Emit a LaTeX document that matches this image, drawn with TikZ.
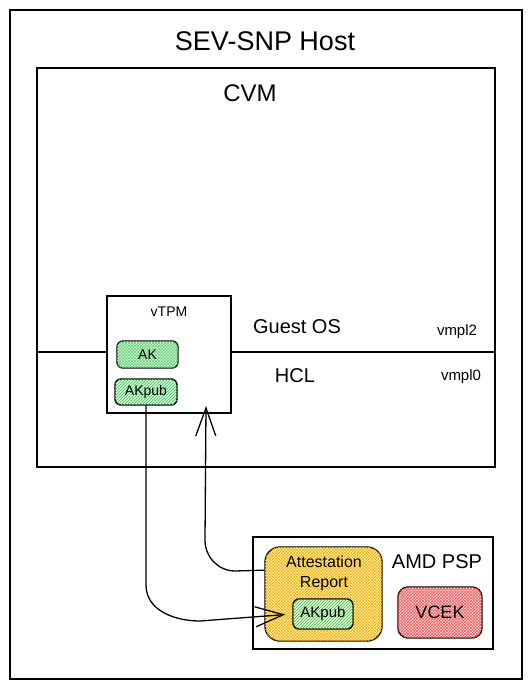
\documentclass[tikz,border=0pt]{standalone}
\usepackage{fontspec}
\setmainfont{Liberation Sans}
\usetikzlibrary{arrows.meta,patterns,calc}
\definecolor{grn}{HTML}{40C057}
\definecolor{grnbg}{HTML}{D3F9D8}
\definecolor{org}{HTML}{FAB005}
\definecolor{orgbg}{HTML}{FFF3BF}
\definecolor{rd}{HTML}{FA5252}
\definecolor{rdbg}{HTML}{FFE3E3}
\tikzset{
  box/.style={draw, line width=1.4pt, rectangle, inner sep=0pt, anchor=center},
  keybox/.style={box, rounded corners=6pt, font=\fontsize{14}{16}\selectfont},
  lbl/.style={inner sep=0pt, anchor=center},
  conn/.style={draw, line width=1.3pt, -{Straight Barb[length=28pt, width=20pt, line width=1.3pt]}},
}
\begin{document}
\begin{tikzpicture}[x=1pt,y=-1pt]
\useasboundingbox (0,0) rectangle (532,685);
\fill[white] (0,0) rectangle (532,685);
% outer host
\node[box, minimum width=512pt, minimum height=669pt] (host) at (266,344.5) {};
\node[lbl, font=\fontsize{27}{31}\selectfont] (hostlbl) at (265,41) {SEV-SNP Host};
% CVM
\node[box, minimum width=458pt, minimum height=399pt] (cvm) at (266,267.5) {};
\node[lbl, font=\fontsize{24}{28}\selectfont] (cvmlbl) at (250,93) {CVM};
% vTPM
\node[box, minimum width=124pt, minimum height=117pt] (vtpm) at (169,354.5) {};
\node[lbl, font=\fontsize{14}{16}\selectfont] (vtpmlbl) at (169,312) {vTPM};
\draw[line width=1.4pt] (cvm.west |- 0,352) -- (vtpm.west |- 0,352);
\draw[line width=1.4pt] (vtpm.east |- 0,352) -- (cvm.east |- 0,352);
% keys in vTPM
\node[keybox, minimum width=61pt, minimum height=27pt, fill=grnbg, postaction={pattern=crosshatch, pattern color=grn!80}] (ak) at (147.5,354.5) {};
\node[lbl, font=\fontsize{14}{16}\selectfont] (aktxt) at (147.5,354.5) {AK};
\node[keybox, minimum width=62pt, minimum height=26pt, fill=grnbg, postaction={pattern=north east lines, pattern color=grn}] (akpub) at (146,392) {};
\node[lbl, font=\fontsize{14}{16}\selectfont] (akpubtxt) at (146,392) {AKpub};
% layer labels
\node[lbl, font=\fontsize{20}{24}\selectfont] (guest) at (297,327) {Guest OS};
\node[lbl, font=\fontsize{15}{18}\selectfont] (vmpl2) at (457,332) {vmpl2};
\node[lbl, font=\fontsize{20}{24}\selectfont] (hcl) at (295,376) {HCL};
\node[lbl, font=\fontsize{15}{18}\selectfont] (vmpl0) at (461,377) {vmpl0};
% AMD PSP
\node[box, minimum width=240pt, minimum height=112pt] (psp) at (373,593) {};
\node[lbl, font=\fontsize{20}{24}\selectfont] (psplbl) at (437,562) {AMD PSP};
\node[box, rounded corners=15pt, minimum width=117pt, minimum height=94pt, fill=orgbg, postaction={pattern=crosshatch, pattern color=org}] (attest) at (323.5,594) {};
\node[lbl, align=center, font=\fontsize{16}{20}\selectfont] (attesttxt) at (324,573) {Attestation\\Report};
\node[keybox, minimum width=60pt, minimum height=30pt, fill=grnbg!60!orgbg, postaction={pattern=north east lines, pattern color=grn}] (akpub2) at (323,614) {};
\node[lbl, font=\fontsize{15}{18}\selectfont] (akpub2txt) at (323,614) {AKpub};
\node[keybox, rounded corners=10pt, minimum width=84pt, minimum height=51pt, fill=rdbg, postaction={pattern=crosshatch, pattern color=rd}] (vcek) at (440,612.5) {};
\node[lbl, font=\fontsize{18}{22}\selectfont] (vcektxt) at (440,612.5) {VCEK};
% connectors
\coordinate (a1bend) at (146,585);
\coordinate (a1h) at (200,621);
\draw[conn, shorten >=7pt] (akpub.south) -- (a1bend) to[out=-90,in=180] (a1h) -- (akpub2.west);
\coordinate (a2start) at ($(attest.north west)!0.25!(attest.south west)$);
\coordinate (a2h) at (235,571);
\coordinate (a2v) at (205,540);
\coordinate (a2tip) at (206,406);
\draw[conn] (a2start) -- (a2h) to[out=180,in=-90] (a2v) -- (a2tip);
\end{tikzpicture}
\end{document}
